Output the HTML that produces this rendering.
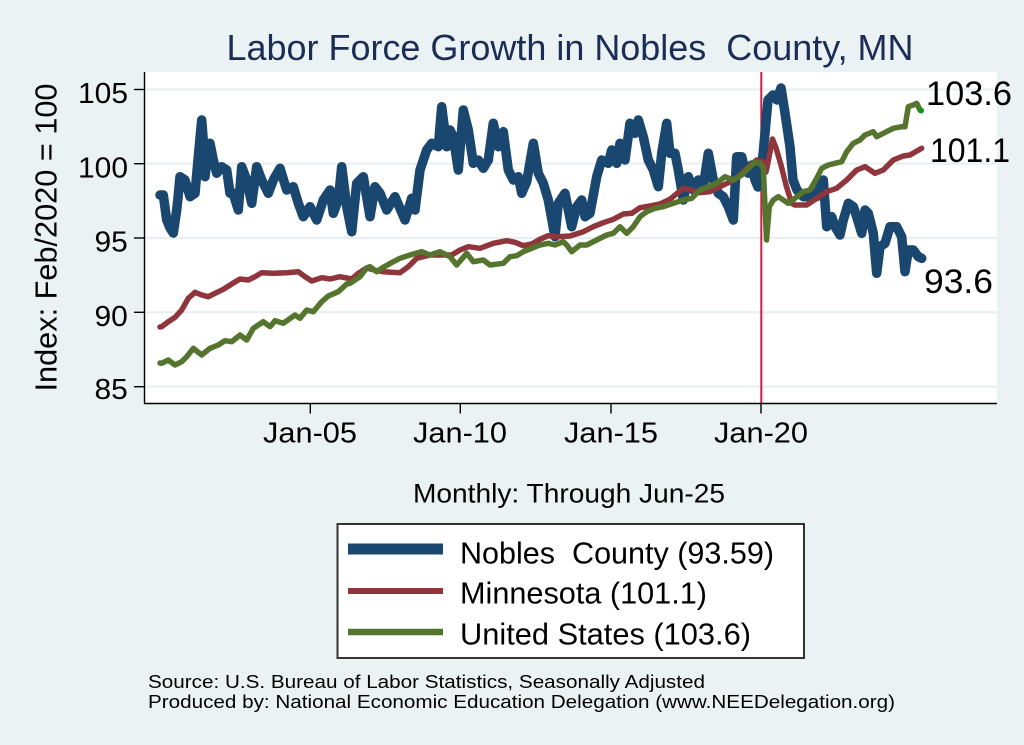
<!DOCTYPE html>
<html>
<head>
<meta charset="utf-8">
<style>
html,body{margin:0;padding:0;background:#eaf2f3;}
svg{display:block;}
text{font-family:"Liberation Sans",Arial,Helvetica,sans-serif;}
</style>
</head>
<body>
<svg width="1024" height="745" viewBox="0 0 1024 745" xmlns="http://www.w3.org/2000/svg">
<rect x="0" y="0" width="1024" height="745" fill="#eaf2f3"/>
<!-- plot region -->
<rect x="145" y="72" width="852" height="331" fill="#ffffff"/>
<!-- gridlines -->
<g stroke="#e8eff1" stroke-width="2.2">
<line x1="145" y1="89.5" x2="997" y2="89.5"/>
<line x1="145" y1="163.7" x2="997" y2="163.7"/>
<line x1="145" y1="238" x2="997" y2="238"/>
<line x1="145" y1="312.3" x2="997" y2="312.3"/>
<line x1="145" y1="386.7" x2="997" y2="386.7"/>
</g>
<!-- vertical reference line -->
<line x1="761.3" y1="72" x2="761.3" y2="403" stroke="#d01c4b" stroke-width="2"/>
<!-- Nobles County -->
<polyline fill="none" stroke="#1a476f" stroke-width="9.5" stroke-linejoin="round" stroke-linecap="round" points="160,195 163.3,195 166.7,220 170,228 173.3,233 176.7,210 178,198 180,176.7 185,180 190,196.7 195,193.3 198.3,156.7 201.7,120 204,150 205,176.7 207,160 210,143.3 213.3,160 216.7,173.3 221.7,166.7 226.7,170 230,193.3 233,193 238.3,210 241.7,166.7 246.7,180 251.7,203.3 256.7,166.7 261.7,180 268.3,193.3 273.3,180 280,168.3 286.7,190 293.3,186.7 298.3,203.3 303.3,216.7 310,206.7 316.7,220 323.3,200 330,190 333.3,213.3 338.3,200 341.7,166.7 346.7,206.7 351.7,231.7 356.7,183.3 363.3,176.7 370,216.7 375,186.7 380,193.3 386.7,210 395,196.7 405,220 411.7,198.3 415,210 420,170 426.7,150 431.7,143.3 438.3,146.7 441.7,106.7 446.7,146.7 450,130 453.3,136.7 458.3,170 463.3,110 468.3,130 473.3,163.3 478.3,160 483.3,168.3 488.3,160 493.3,123.3 498.3,146.7 503.3,131.7 508.3,170 513.3,180 518.3,176.7 521.7,193.3 526.7,181.7 533.3,143.3 538.3,173.3 543.3,183.3 548.3,200 555,236.7 558.3,203.3 565,193.3 571.7,226.7 576.7,206.7 581.7,200 585,216.7 590,213.3 596.7,176.7 601.7,160 608.3,163.3 611.7,150 616.7,163.3 620,143.3 625,160 630,123.3 635,133.3 638.3,120 643.3,136.7 648.3,160 653.3,170 658.3,186.7 661.7,153.3 666.7,123.3 670,153.3 675,153.3 678.3,170 683.3,200 688.3,176.7 693.3,190 698.3,180 703.3,186.7 708.3,153.3 713.3,180 718.3,193.3 723.3,196.7 728.3,206.7 733.3,220 736.7,156.7 741.7,156.7 745,170 748.3,173.3 751.7,165 755,180 758,187 763,155 768,100 773,95 777,100 781,88 785,113 790,147 793,180 797,190 803.3,196.7 808.3,196.7 813.3,193.3 816.7,196.7 820,186.7 823.3,180 826.7,226.7 831.7,216.7 835,226.7 840,235 843.3,220 848.3,203.3 853.3,206.7 856.7,216.7 861.7,233.3 865,210 868.3,213.3 873.3,233.3 876.7,273.3 880,246.7 885,243.3 890,226.7 896.7,226.7 901.7,236.7 905,271.7 908.3,250 913.3,250 918.3,256.7 921.7,258.3"/>
<!-- Minnesota -->
<polyline fill="none" stroke="#90353b" stroke-width="5.5" stroke-linejoin="round" stroke-linecap="round" points="160,327 161.7,326.7 168.3,321.7 175,317.3 181.7,310 188.3,298.3 195,292.3 201.7,295 208.3,296.7 215,293.3 223.3,289.3 231.7,284 240,279 248.3,280 255,276.7 261.7,272.7 273.3,273.3 286.7,272.7 298.3,271.7 305,276.7 311.7,281 321.7,277.7 330,279 340,276.7 351.7,279 358.3,273.3 366.7,268 376,270.5 383.3,271.7 400,272.7 408.3,266.7 416.7,258.3 430,255 440,255 451.7,255 460,250 468.3,246.7 480,248.3 493.3,243.3 506.7,240.7 515,242.3 523.3,245.7 531.7,244 540,239.3 548.3,235.7 556.7,236.7 570,236 583.3,231.7 593.3,226.7 603.3,222.7 613.3,219.3 623.3,214 631.7,213.3 640,207.7 650,206 660,204 670,199.3 683.3,188.3 691.7,190 700,192.7 710,191.7 720,186.7 728.3,182.7 736.7,178.3 746.7,168.3 756.7,160 763.5,162 766,172 768.5,160 772.5,139 776,148 781,165 786,185 791.7,203.3 795,205 806.7,205 816.7,198.3 826.7,191.7 836.7,188.3 846.7,180 856.7,170 865,166.7 875,173.3 883.3,170 893.3,160 903.3,156 910,155 921.7,148.3"/>
<!-- United States -->
<polyline fill="none" stroke="#55752f" stroke-width="5.5" stroke-linejoin="round" stroke-linecap="round" points="160,363 161.7,363.3 168.3,360 175,365 181.7,361.7 186.7,356.7 193.3,348.3 201.7,355 210,348.3 218.3,345 225,340.7 231.7,341.7 240,335 246.7,340 253.3,328.3 263.3,321.7 270,326.7 275,320.7 283.3,323.3 295,315 300,318.3 306.7,310 313.3,311.7 321.7,301.7 328.3,296 338.3,291.7 346.7,284 350,283.3 360,276.7 366.7,268 370,266.7 376.7,271.7 383.3,267.3 393.3,261.7 400,258.3 410,255 421.7,251.7 430,255 440,251.7 450,256.7 456.7,265 466.7,253.3 473.3,261.7 483.3,260 490,265 503.3,263.3 510,256.7 516.7,255.7 523.3,251.7 531.7,248.3 540,245 548.3,243.3 555,245 563.3,241.7 566.7,245 571.7,251.7 580,245 586.7,245 596.7,240 606.7,235 613.3,233.3 620,226.7 626.7,233.3 633.3,226.7 640,216.7 646.7,211.7 655,208.3 663.3,206.7 673.3,203.3 683.3,200 691.7,198.3 700,190 708.3,186.7 716.7,183.3 725,176.7 733.3,180 741.7,175 750,166.7 755,162 760,163.3 763.3,168 766.5,240 769.3,206.7 773.3,200 778.3,196.7 783.3,200 788.3,203.3 795,198.3 803.3,191.7 810,190 816.7,178.3 821.7,168.3 828.3,165 835,163.3 841.7,161.7 846.7,151.7 853.3,143.3 860,140 865,135 873.3,131.7 876.7,136.7 883.3,133.3 893.3,128.3 901.7,126.7 905,126.7 908.3,106.7 913.3,105 916.7,103.3 920,110"/>
<circle cx="921" cy="110.5" r="3" fill="#0a9a1a"/>
<!-- axes -->
<g stroke="#000" stroke-width="1.4">
<line x1="144.5" y1="72" x2="144.5" y2="403.5"/>
<line x1="144" y1="403.5" x2="997" y2="403.5"/>
<line x1="134" y1="89.5" x2="144.5" y2="89.5"/>
<line x1="134" y1="163.7" x2="144.5" y2="163.7"/>
<line x1="134" y1="238" x2="144.5" y2="238"/>
<line x1="134" y1="312.3" x2="144.5" y2="312.3"/>
<line x1="134" y1="386.7" x2="144.5" y2="386.7"/>
<line x1="310.3" y1="403.5" x2="310.3" y2="413.5"/>
<line x1="460.3" y1="403.5" x2="460.3" y2="413.5"/>
<line x1="611" y1="403.5" x2="611" y2="413.5"/>
<line x1="761" y1="403.5" x2="761" y2="413.5"/>
</g>
<!-- title -->
<text x="226.5" y="60" font-size="36" fill="#1c2d55" textLength="687" lengthAdjust="spacingAndGlyphs">Labor Force Growth in Nobles&#160; County, MN</text>
<!-- y axis title -->
<text transform="translate(56.5,237.5) rotate(-90)" x="-154" y="0" font-size="31" fill="#000" textLength="308" lengthAdjust="spacingAndGlyphs">Index: Feb/2020 = 100</text>
<!-- y tick labels -->
<g font-size="29" fill="#000">
<text x="78" y="103" textLength="50" lengthAdjust="spacingAndGlyphs">105</text>
<text x="78" y="177.5" textLength="50" lengthAdjust="spacingAndGlyphs">100</text>
<text x="94.5" y="251.7" textLength="33.3" lengthAdjust="spacingAndGlyphs">95</text>
<text x="94.5" y="326" textLength="33.3" lengthAdjust="spacingAndGlyphs">90</text>
<text x="94.5" y="399" textLength="33.3" lengthAdjust="spacingAndGlyphs">85</text>
</g>
<!-- x tick labels -->
<g font-size="29" fill="#000">
<text x="263" y="442.3" textLength="94" lengthAdjust="spacingAndGlyphs">Jan-05</text>
<text x="413" y="442.3" textLength="94" lengthAdjust="spacingAndGlyphs">Jan-10</text>
<text x="564" y="442.3" textLength="94" lengthAdjust="spacingAndGlyphs">Jan-15</text>
<text x="714" y="442.3" textLength="94" lengthAdjust="spacingAndGlyphs">Jan-20</text>
</g>
<text x="413" y="502.7" font-size="27" fill="#000" textLength="312" lengthAdjust="spacingAndGlyphs">Monthly: Through Jun-25</text>
<!-- end labels -->
<g font-size="34" fill="#000">
<text x="926" y="105" textLength="86" lengthAdjust="spacingAndGlyphs">103.6</text>
<text x="930" y="162" textLength="80" lengthAdjust="spacingAndGlyphs">101.1</text>
<text x="924" y="293" textLength="69" lengthAdjust="spacingAndGlyphs">93.6</text>
</g>
<!-- legend -->
<rect x="337.5" y="524" width="466.5" height="134" fill="#ffffff" stroke="#333333" stroke-width="2"/>
<line x1="348" y1="549" x2="443" y2="549" stroke="#1a476f" stroke-width="11"/>
<line x1="348" y1="591" x2="443" y2="591" stroke="#90353b" stroke-width="6"/>
<line x1="348" y1="632" x2="443" y2="632" stroke="#55752f" stroke-width="6.5"/>
<g font-size="30.5" fill="#000">
<text x="460" y="563.3" textLength="314" lengthAdjust="spacingAndGlyphs">Nobles&#160; County (93.59)</text>
<text x="460" y="603.5" textLength="247" lengthAdjust="spacingAndGlyphs">Minnesota (101.1)</text>
<text x="460" y="644.3" textLength="291" lengthAdjust="spacingAndGlyphs">United States (103.6)</text>
</g>
<!-- source -->
<g font-size="18" fill="#000">
<text x="148" y="688" textLength="557" lengthAdjust="spacingAndGlyphs">Source: U.S. Bureau of Labor Statistics, Seasonally Adjusted</text>
<text x="148" y="708" textLength="747" lengthAdjust="spacingAndGlyphs">Produced by: National Economic Education Delegation (www.NEEDelegation.org)</text>
</g>
</svg>
</body>
</html>
